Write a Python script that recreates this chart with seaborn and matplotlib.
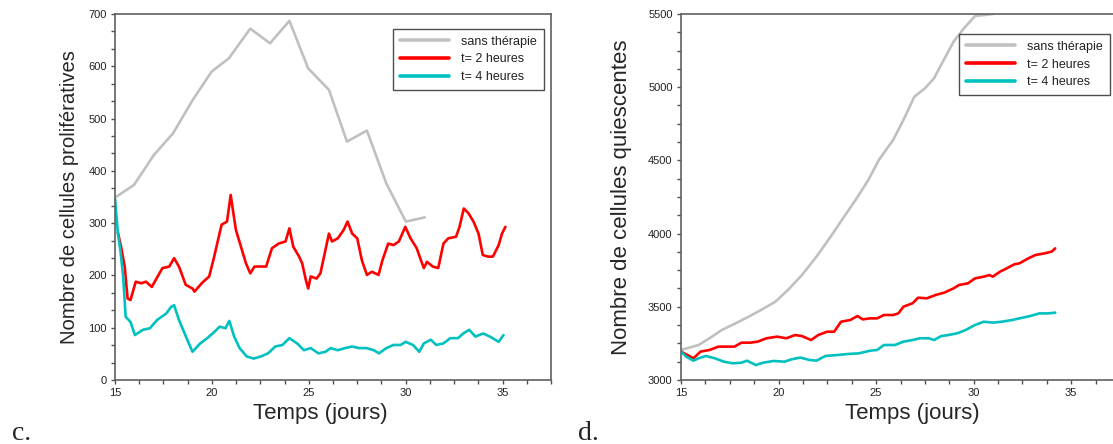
import numpy as np
import pandas as pd
import matplotlib
matplotlib.use("Agg")
import matplotlib.pyplot as plt
from matplotlib.ticker import MultipleLocator
import seaborn as sns

# --- panel c : proliferating cells ---
c_sans_t = [15.0, 15.98, 17.0, 18.0, 19.0, 19.99, 20.87, 21.98, 23.0, 24.0, 24.97,
            26.04, 26.97, 28.0, 29.0, 30.01, 30.99]
c_sans_y = [349, 373, 430, 472, 535, 590, 615, 672, 644, 687, 596,
            555, 456, 477, 376, 303, 311]

c_t2_t = [15.15, 15.33, 15.5, 15.65, 15.8, 16.07, 16.35, 16.6, 16.9, 17.2, 17.45, 17.8,
          18.05, 18.3, 18.65, 19.0, 19.1, 19.5, 19.86, 20.1, 20.3, 20.5, 20.78, 20.97,
          21.06, 21.24, 21.5, 21.76, 21.98, 22.2, 22.6, 22.8, 23.1, 23.45, 23.8, 24.0,
          24.2, 24.5, 24.66, 24.85, 24.97, 25.1, 25.4, 25.6, 25.77, 26.04, 26.2, 26.5,
          26.8, 27.0, 27.24, 27.5, 27.74, 28.0, 28.26, 28.6, 28.8, 29.1, 29.37, 29.65,
          29.98, 30.25, 30.57, 30.75, 30.94, 31.1, 31.4, 31.68, 31.95, 32.2, 32.6, 32.78,
          33.0, 33.24, 33.5, 33.76, 33.98, 34.25, 34.5, 34.8, 34.97, 35.15]
c_t2_y = [282, 252, 217, 156, 153, 188, 185, 188, 178, 198, 214, 217,
          233, 217, 182, 175, 169, 186, 198, 233, 265, 297, 303, 354,
          331, 287, 255, 223, 204, 217, 217, 217, 252, 261, 265, 290,
          255, 236, 223, 191, 175, 198, 194, 204, 233, 280, 265, 271,
          287, 303, 280, 271, 229, 201, 207, 201, 229, 261, 258, 265,
          293, 271, 252, 233, 214, 226, 217, 214, 261, 271, 274, 293,
          328, 319, 303, 280, 239, 236, 236, 258, 280, 293]

c_t4_t = [15.0, 15.15, 15.28, 15.42, 15.55, 15.8, 16.03, 16.44, 16.8, 17.18, 17.64, 17.9,
          18.05, 18.3, 18.66, 19.0, 19.4, 19.76, 20.13, 20.4, 20.7, 20.9, 21.15, 21.43,
          21.8, 22.16, 22.53, 22.9, 23.27, 23.64, 24.0, 24.4, 24.75, 25.1, 25.5, 25.86,
          26.13, 26.5, 26.87, 27.24, 27.6, 27.98, 28.35, 28.63, 29.0, 29.37, 29.74, 30.0,
          30.38, 30.7, 30.94, 31.3, 31.58, 31.95, 32.3, 32.7, 32.97, 33.28, 33.6, 34.0,
          34.35, 34.8, 35.05]
c_t4_y = [347, 280, 248, 198, 121, 111, 86, 96, 99, 115, 127, 140,
          143, 115, 83, 54, 70, 80, 92, 102, 99, 113, 83, 61,
          45, 41, 45, 51, 64, 67, 80, 70, 57, 61, 51, 54,
          61, 57, 61, 64, 61, 61, 57, 51, 61, 67, 67, 73,
          67, 54, 70, 77, 67, 70, 80, 80, 89, 96, 83, 89,
          83, 73, 86]

# --- panel d : quiescent cells ---
d_sans_t = [15.0, 15.9, 16.46, 17.1, 17.74, 18.47, 19.1, 19.84, 20.48, 21.2, 21.94, 22.67,
            23.3, 23.95, 24.6, 25.14, 25.87, 26.4, 26.96, 27.5, 27.97, 28.42, 28.97, 29.5,
            30.07, 30.98]
d_sans_y = [3205, 3239, 3285, 3342, 3383, 3433, 3478, 3535, 3615, 3717, 3842, 3979,
            4104, 4230, 4366, 4503, 4639, 4776, 4935, 4992, 5061, 5174, 5311, 5402,
            5486, 5500]

d_t2_t = [15.0, 15.64, 16.0, 16.46, 16.92, 17.37, 17.74, 18.1, 18.56, 18.93, 19.38, 19.93,
          20.4, 20.85, 21.2, 21.67, 22.03, 22.49, 22.85, 23.2, 23.68, 24.04, 24.32, 24.68,
          25.05, 25.4, 25.87, 26.14, 26.4, 26.87, 27.15, 27.6, 28.06, 28.5, 28.97, 29.25,
          29.7, 30.07, 30.52, 30.8, 30.98, 31.35, 31.7, 32.08, 32.35, 32.8, 33.17, 33.63,
          34.0, 34.18]
d_t2_y = [3194, 3148, 3194, 3205, 3228, 3228, 3228, 3255, 3255, 3262, 3285, 3296,
          3285, 3307, 3300, 3273, 3307, 3330, 3330, 3398, 3410, 3437, 3414, 3421,
          3421, 3444, 3444, 3455, 3501, 3524, 3562, 3558, 3581, 3597, 3626, 3649,
          3660, 3694, 3706, 3717, 3706, 3740, 3763, 3790, 3797, 3831, 3854, 3865,
          3877, 3899]

d_t4_t = [15.0, 15.27, 15.64, 15.9, 16.28, 16.74, 17.2, 17.65, 18.1, 18.38, 18.84, 19.2,
          19.75, 20.3, 20.66, 21.12, 21.58, 21.94, 22.4, 23.04, 23.58, 24.13, 24.68, 25.05,
          25.4, 25.96, 26.4, 26.87, 27.24, 27.7, 27.97, 28.33, 28.7, 29.16, 29.6, 30.07,
          30.52, 30.98, 31.44, 31.98, 32.35, 32.9, 33.36, 33.81, 34.18]
d_t4_y = [3194, 3159, 3132, 3148, 3164, 3148, 3125, 3114, 3118, 3132, 3102, 3118,
          3130, 3125, 3141, 3153, 3137, 3132, 3164, 3171, 3178, 3182, 3200, 3205,
          3239, 3239, 3262, 3273, 3285, 3285, 3273, 3300, 3307, 3319, 3342, 3376,
          3398, 3392, 3398, 3410, 3421, 3437, 3455, 3455, 3460]

labels = ["sans thérapie", "t= 2 heures", "t= 4 heures"]
colors = ["#c0c0c0", "#ff0000", "#00c0c0"]

sns.set_style("white")
plt.rcParams["font.family"] = ["Liberation Sans", "DejaVu Sans"]

W, H = 1113, 444
fig = plt.figure(figsize=(W / 100, H / 100), dpi=100)


def px_axes(x0, x1, y0, y1):
    return fig.add_axes([x0 / W, 1 - y1 / H, (x1 - x0) / W, (y1 - y0) / H])


def draw_panel(ax, series, ylim, ymajor, yminor, ylabel, ylab_size, ylab_x, xlab_x,
               leg_anchor):
    for (t, y), lab, col in zip(series, labels, colors):
        sns.lineplot(x=t, y=y, ax=ax, color=col, lw=1.9, label=lab,
                     sort=False, estimator=None)
    ax.set_xlim(15, 37.5)
    ax.set_ylim(*ylim)
    ax.xaxis.set_minor_locator(MultipleLocator(1.25))
    ax.yaxis.set_major_locator(MultipleLocator(ymajor))
    ax.yaxis.set_minor_locator(MultipleLocator(yminor))
    ax.set_xticks([15, 20, 25, 30, 35])
    ax.tick_params(which="both", direction="out", length=3, width=1,
                   color="#505050", labelsize=8, labelcolor="#222222", pad=3,
                   bottom=True, left=True)
    for s in ax.spines.values():
        s.set_color("#606060")
        s.set_linewidth(1.2)
    ax.set_xlabel("Temps (jours)", fontsize=16)
    ax.xaxis.set_label_coords(xlab_x, -0.063)
    ax.set_ylabel(ylabel, fontsize=ylab_size)
    ax.yaxis.set_label_coords(ylab_x, 0.5)
    leg = ax.legend(loc="upper left", bbox_to_anchor=leg_anchor, frameon=True,
                    fancybox=False, fontsize=9, handlelength=3.9, handletextpad=1.0,
                    labelspacing=0.45, borderpad=0.55, borderaxespad=0)
    leg.get_frame().set_edgecolor("#222222")
    leg.get_frame().set_linewidth(1.0)
    for line in leg.get_lines():
        line.set_linewidth(2.6)
    for txt in leg.get_texts():
        txt.set_color("#222222")


ax_c = px_axes(115, 551, 14, 380)
draw_panel(ax_c,
           [(c_sans_t, c_sans_y), (c_t2_t, c_t2_y), (c_t4_t, c_t4_y)],
           (0, 700), 100, 100 / 3, "Nombre de cellules prolifératives", 14.6,
           (79 - 115) / 436, (320 - 115) / 436,
           ((393 - 115) / 436, (380 - 29) / 366))

ax_d = px_axes(681, 1120, 14, 380)
draw_panel(ax_d,
           [(d_sans_t, d_sans_y), (d_t2_t, d_t2_y), (d_t4_t, d_t4_y)],
           (3000, 5500), 500, 125, "Nombre de cellules quiescentes", 16,
           (632 - 681) / 439, (912 - 681) / 439,
           ((959 - 681) / 439, (380 - 34) / 366))

fig.text(12 / W, 1 - 440 / H, "c.", family="Liberation Serif", fontsize=20, va="baseline")
fig.text(578 / W, 1 - 440 / H, "d.", family="Liberation Serif", fontsize=20, va="baseline")

fig.savefig("out.png", dpi=100)
